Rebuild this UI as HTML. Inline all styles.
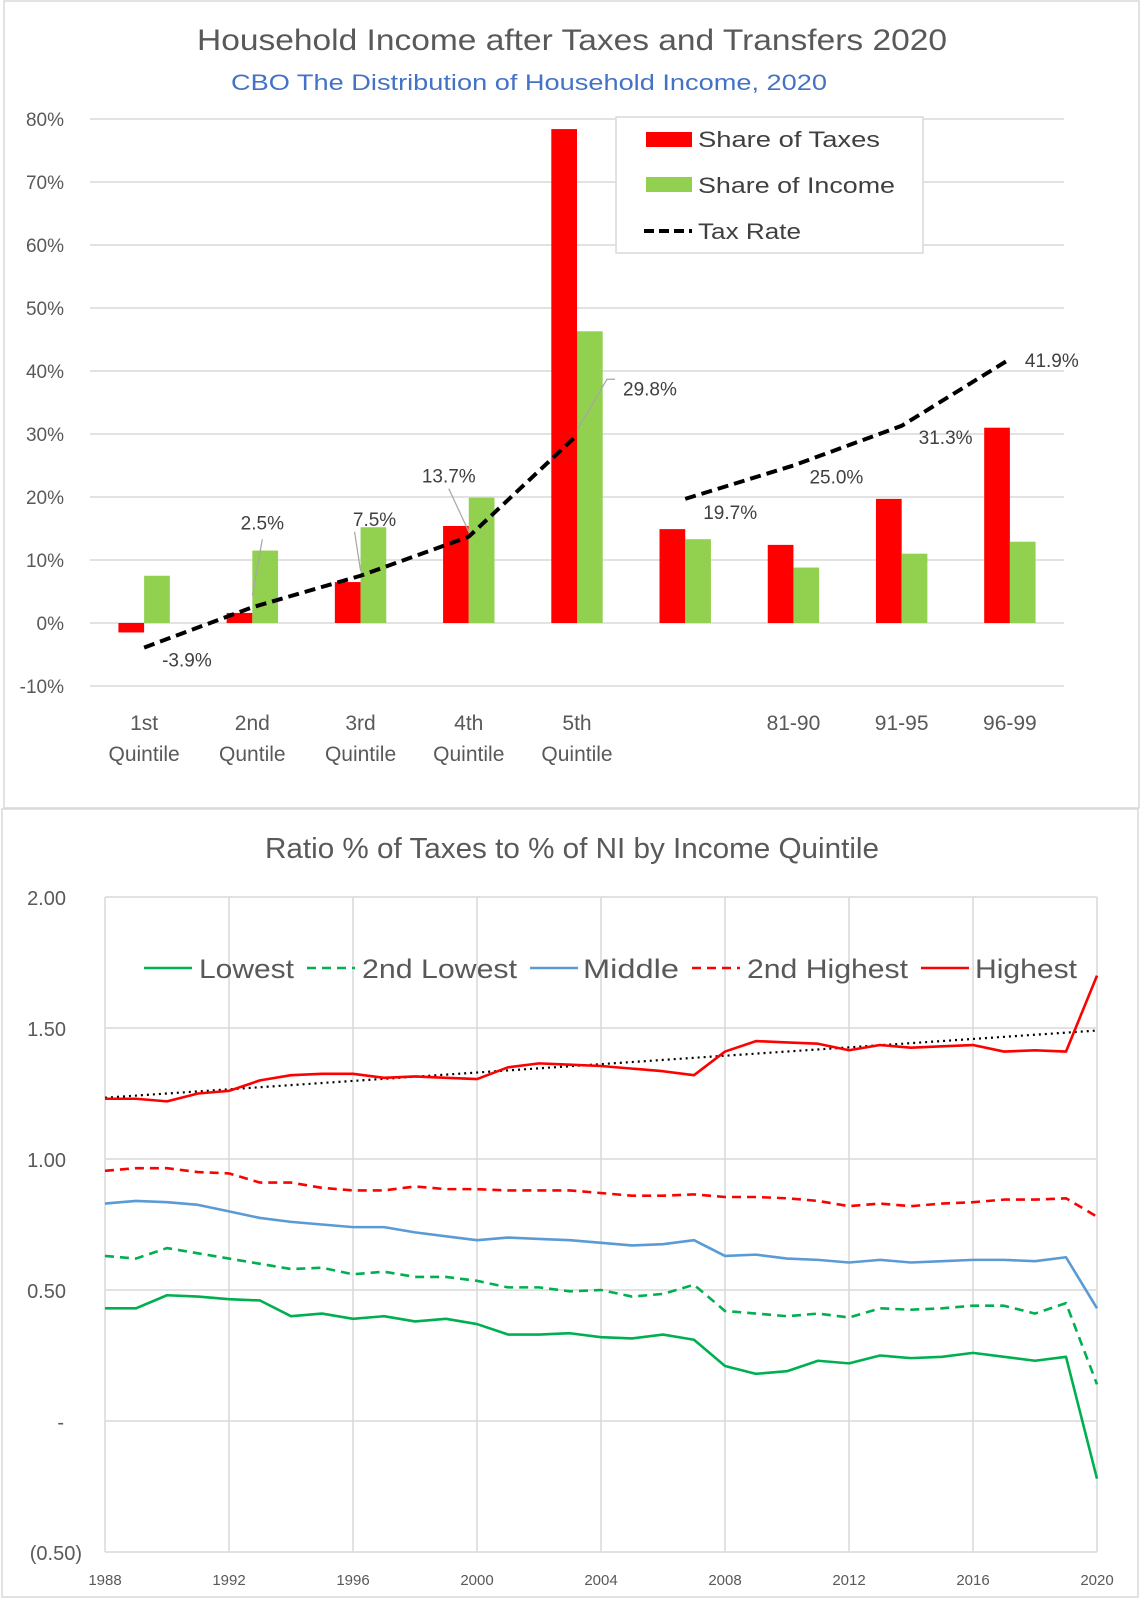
<!DOCTYPE html>
<html><head><meta charset="utf-8"><style>
html,body{margin:0;padding:0;background:#fff;}
svg{display:block;font-family:"Liberation Sans",sans-serif;}
</style></head><body>
<svg id="svg" width="1143" height="1600" viewBox="0 0 1143 1600">
<rect x="4" y="1" width="1135" height="807" fill="#fff" stroke="#d9d9d9" stroke-width="1.5"/>
<rect x="2" y="809" width="1136" height="788" fill="#fff" stroke="#d9d9d9" stroke-width="1.5"/>
<text x="572" y="50" text-anchor="middle" font-size="30" fill="#595959" textLength="750" lengthAdjust="spacingAndGlyphs">Household Income after Taxes and Transfers 2020</text>
<text x="529" y="90" text-anchor="middle" font-size="22" fill="#4472c4" textLength="596" lengthAdjust="spacingAndGlyphs">CBO The Distribution of Household Income, 2020</text>
<g id="top"></g>
<text x="572" y="858" text-anchor="middle" font-size="29" fill="#595959" textLength="614" lengthAdjust="spacingAndGlyphs">Ratio % of Taxes to % of NI by Income Quintile</text>
<g id="bot"></g>
</svg>
<script>
// ---------- Top chart data ----------
const topCategories = [["1st","Quintile"],["2nd","Quntile"],["3rd","Quintile"],["4th","Quintile"],["5th","Quintile"],[""],["81-90"],["91-95"],["96-99"]];
const shareTaxes = [-1.5, 1.6, 6.5, 15.4, 78.4, 14.9, 12.4, 19.7, 31.0];
const shareIncome = [7.5, 11.5, 15.2, 19.9, 46.3, 13.3, 8.8, 11.0, 12.9];
const taxRate = [-3.9, 2.5, 7.5, 13.7, 29.8, 19.7, 25.0, 31.3, 41.9];
const taxRateLabels = ["-3.9%","2.5%","7.5%","13.7%","29.8%","19.7%","25.0%","31.3%","41.9%"];
const topTicks = [80,70,60,50,40,30,20,10,0,-10];

// ---------- Bottom chart data ----------
const years = [];
for (let y = 1988; y <= 2020; y++) years.push(y);
const lowest = [0.43,0.43,0.48,0.475,0.465,0.46,0.40,0.41,0.39,0.40,0.38,0.39,0.37,0.33,0.33,0.335,0.32,0.315,0.33,0.31,0.21,0.18,0.19,0.23,0.22,0.25,0.24,0.245,0.26,0.245,0.23,0.245,-0.22];
const secondLowest = [0.63,0.62,0.66,0.64,0.62,0.60,0.58,0.585,0.56,0.57,0.55,0.55,0.535,0.51,0.51,0.495,0.50,0.475,0.485,0.52,0.42,0.41,0.40,0.41,0.395,0.43,0.425,0.43,0.44,0.44,0.41,0.45,0.14];
const middle = [0.83,0.84,0.835,0.825,0.80,0.775,0.76,0.75,0.74,0.74,0.72,0.705,0.69,0.70,0.695,0.69,0.68,0.67,0.675,0.69,0.63,0.635,0.62,0.615,0.605,0.615,0.605,0.61,0.615,0.615,0.61,0.625,0.43];
const secondHighest = [0.955,0.965,0.965,0.95,0.945,0.91,0.91,0.89,0.88,0.88,0.895,0.885,0.885,0.88,0.88,0.88,0.87,0.86,0.86,0.865,0.855,0.855,0.85,0.84,0.82,0.83,0.82,0.83,0.835,0.845,0.845,0.85,0.78];
const highest = [1.23,1.23,1.22,1.25,1.26,1.30,1.32,1.325,1.325,1.31,1.315,1.31,1.305,1.35,1.365,1.36,1.355,1.345,1.335,1.32,1.41,1.45,1.445,1.44,1.415,1.435,1.425,1.43,1.435,1.41,1.415,1.41,1.70];
const botTicks = [2.0,1.5,1.0,0.5,0,-0.5];
const botTickLabels = ["2.00","1.50","1.00","0.50","-","(0.50)"];
const yearTicks = [1988,1992,1996,2000,2004,2008,2012,2016,2020];

const NS = "http://www.w3.org/2000/svg";
function mk(parent, tag, attrs, text) {
  const e = document.createElementNS(NS, tag);
  for (const k in attrs) e.setAttribute(k, attrs[k]);
  if (text !== undefined) e.textContent = text;
  parent.appendChild(e);
  return e;
}

// ---------- Top chart ----------
const T = document.getElementById('top');
const tLeft = 90, tRight = 1064, catW = (tRight - tLeft) / topCategories.length;
const ty = v => 623 - v * 6.3;
const cx = i => tLeft + catW * (i + 0.5);
topTicks.forEach(t => {
  const g = mk(T, 'line', {x1: tLeft, x2: tRight, y1: ty(t), y2: ty(t), stroke: '#d9d9d9', 'stroke-width': 1.5});
  
  
  const l = mk(T, 'text', {x: 64, y: ty(t) + 7, 'text-anchor': 'end', 'font-size': 19, fill: '#595959'}, t + '%');
  
  
});
const bw = 25.7;
shareTaxes.forEach((v, i) => {
  const r = mk(T, 'rect', {x: cx(i) - bw, y: Math.min(ty(v), ty(0)), width: bw, height: Math.abs(ty(v) - ty(0)), fill: '#ff0000'});
  
  
});
shareIncome.forEach((v, i) => {
  const r = mk(T, 'rect', {x: cx(i), y: Math.min(ty(v), ty(0)), width: bw, height: Math.abs(ty(v) - ty(0)), fill: '#92d050'});
  
  
});
topCategories.forEach((c, i) => {
  c.forEach((s, j) => {
    const t = mk(T, 'text', {x: cx(i), y: 730 + j * 31, 'text-anchor': 'middle', 'font-size': 21, fill: '#595959'}, s);
    
    
  });
});
[[0,5],[5,9]].forEach(([a,b]) => {
  const pts = [];
  for (let i = a; i < b; i++) pts.push(cx(i) + ',' + ty(taxRate[i]));
  const p = mk(T, 'polyline', {points: pts.join(' '), fill: 'none', stroke: '#000', 'stroke-width': 4, 'stroke-dasharray': '11,6'});
  
  
});
// data label offsets [dx, dy, anchor]
const lblOff = [[18,19,'start'],[10,-78,'middle'],[14,-50,'middle'],[-20,-54,'middle'],[46,-40,'start'],[18,20,'start'],[16,18,'start'],[17,18,'start'],[15,8,'start']];
const leaders = [null,[0,-12,10,-68],[0,-5,-6,-44],[0,-5,-20,-48],[0,-5,30,-56],null,null,null,null];
taxRate.forEach((v, i) => {
  const x = cx(i), y = ty(v);
  const o = lblOff[i];
  const t = mk(T, 'text', {x: x + o[0], y: y + o[1], 'text-anchor': o[2], 'font-size': 19, fill: '#404040'}, taxRateLabels[i]);
  
  
  const L = leaders[i];
  if (L) {
    const ln = mk(T, 'polyline', {points: (x+L[0])+','+(y+L[1])+' '+(x+L[2])+','+(y+L[3]) + (i===4?' '+(x+L[2]+8)+','+(y+L[3]):''), fill:'none', stroke: '#a6a6a6', 'stroke-width': 1.2});
    
    
  }
});
const lg = mk(T, 'g', {});


mk(lg, 'rect', {x: 616, y: 117, width: 307, height: 136, fill: '#fff', stroke: '#d9d9d9', 'stroke-width': 1.5});
const s1 = mk(lg, 'rect', {x: 646, y: 132, width: 46, height: 15, fill: '#ff0000'});


const t1 = mk(lg, 'text', {x: 698, y: 147, 'font-size': 22, fill: '#404040', textLength: 182, lengthAdjust: 'spacingAndGlyphs'}, 'Share  of Taxes');


const s2 = mk(lg, 'rect', {x: 646, y: 177, width: 46, height: 15, fill: '#92d050'});


const t2 = mk(lg, 'text', {x: 698, y: 193, 'font-size': 22, fill: '#404040', textLength: 197, lengthAdjust: 'spacingAndGlyphs'}, 'Share of Income');


const s3 = mk(lg, 'line', {x1: 644, x2: 692, y1: 231, y2: 231, stroke: '#000', 'stroke-width': 4, 'stroke-dasharray': '10,5'});


const t3 = mk(lg, 'text', {x: 698, y: 239, 'font-size': 22, fill: '#404040', textLength: 103, lengthAdjust: 'spacingAndGlyphs'}, 'Tax Rate');



// ---------- Bottom chart ----------
const B = document.getElementById('bot');
const bLeft = 105, bRight = 1097;
const bx = yr => bLeft + (yr - 1988) * (bRight - bLeft) / 32;
const by = v => 1421 - v * 262;
yearTicks.forEach(yr => {
  const g = mk(B, 'line', {x1: bx(yr), x2: bx(yr), y1: by(2), y2: by(-0.5), stroke: '#d9d9d9', 'stroke-width': 1.5});
  
  
  const t = mk(B, 'text', {x: bx(yr), y: 1585, 'text-anchor': 'middle', 'font-size': 15, fill: '#595959'}, yr);
  
  
});
botTicks.forEach((v, i) => {
  const g = mk(B, 'line', {x1: bLeft, x2: bRight, y1: by(v), y2: by(v), stroke: '#d9d9d9', 'stroke-width': 1.5});
  
  
  const lab = botTickLabels[i];
  let xx = 66, anchor = 'end';
  if (lab[0] === '(') xx = 82;
  if (lab === '-') { xx = 64; }
  const t = mk(B, 'text', {x: xx, y: by(v) + 8, 'text-anchor': anchor, 'font-size': 20, fill: '#595959'}, lab);
  
  
});
(function(){
  const n = years.length;
  let sx=0,sy=0,sxy=0,sxx=0;
  years.forEach((yr,i)=>{sx+=yr;sy+=highest[i];sxy+=yr*highest[i];sxx+=yr*yr;});
  const m=(n*sxy-sx*sy)/(n*sxx-sx*sx), c=(sy-m*sx)/n;
  const tl = mk(B,'line',{x1:bx(1988),y1:by(m*1988+c),x2:bx(2020),y2:by(m*2020+c),stroke:'#000','stroke-width':2.2,'stroke-dasharray':'2,4'});
  
  
})();
const series = [
  [lowest, '#00b050', null, 'line-lowest'],
  [secondLowest, '#00b050', '9,6', 'line-2nd-lowest'],
  [middle, '#5b9bd5', null, 'line-middle'],
  [secondHighest, '#ff0000', '9,6', 'line-2nd-highest'],
  [highest, '#ff0000', null, 'line-highest']
];
series.forEach(s => {
  const pts = years.map((yr, i) => bx(yr) + ',' + by(s[0][i])).join(' ');
  const a = {points: pts, fill: 'none', stroke: s[1], 'stroke-width': 2.6, 'stroke-linejoin': 'round'};
  if (s[2]) a['stroke-dasharray'] = s[2];
  const p = mk(B, 'polyline', a);
  
  
});
const legendItems = [
  ['Lowest', '#00b050', null, 144, 199, 95],
  ['2nd Lowest', '#00b050', '9,6', 307, 362, 155],
  ['Middle', '#5b9bd5', null, 530, 583, 96],
  ['2nd Highest', '#ff0000', '9,6', 692, 747, 161],
  ['Highest', '#ff0000', null, 921, 975, 102]
];
legendItems.forEach(it => {
  const a = {x1: it[3], x2: it[3] + 48, y1: 968, y2: 968, stroke: it[1], 'stroke-width': 2.6};
  if (it[2]) a['stroke-dasharray'] = it[2];
  const l = mk(B, 'line', a);
  
  
  const t = mk(B, 'text', {x: it[4], y: 978, 'font-size': 27, fill: '#595959', textLength: it[5], lengthAdjust: 'spacingAndGlyphs'}, it[0]);
  
  
});
</script>
</body></html>
